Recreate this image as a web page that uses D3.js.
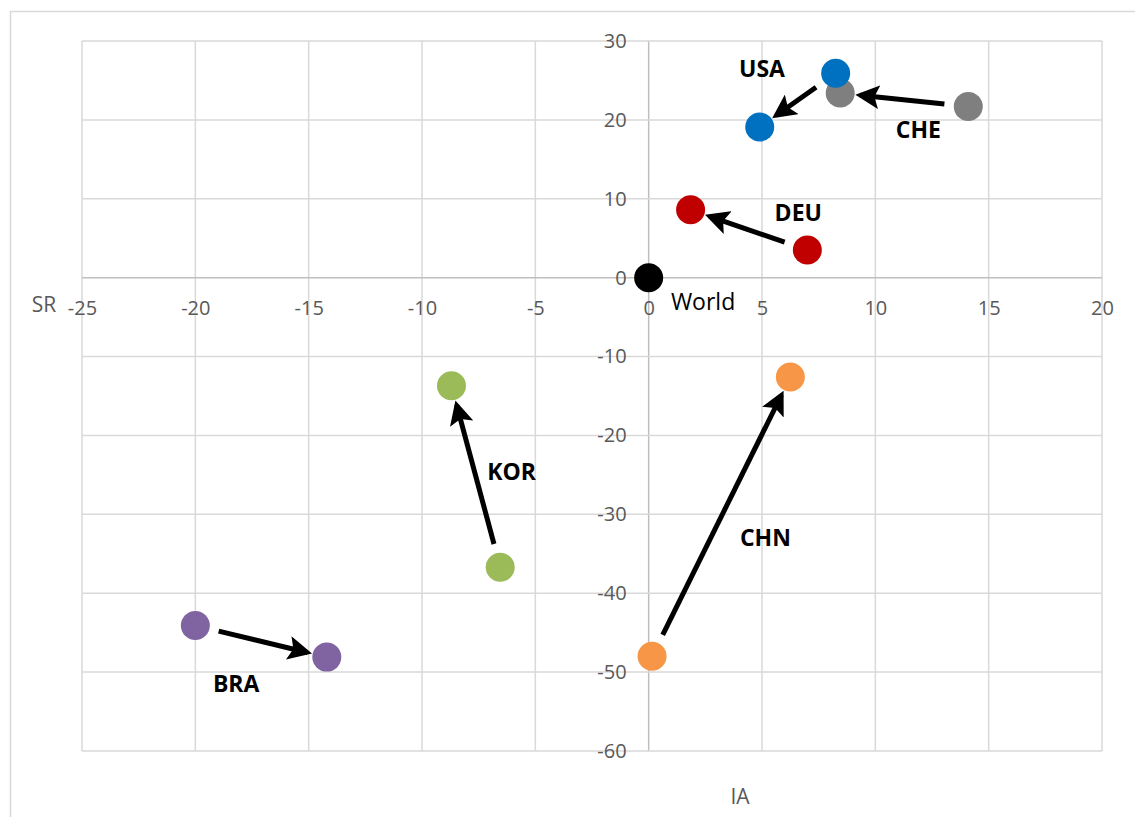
<!DOCTYPE html>
<html>
<head>
<meta charset="utf-8">
<script src="https://cdn.jsdelivr.net/npm/d3@7"></script>
<style>
  body { margin: 0; background: #fff; }
  text { font-family: "Open Sans", sans-serif; }
</style>
</head>
<body>
<script>
// series names and colours (drawn in this order, CHE below USA)
var countries = ["CHE", "USA", "DEU", "KOR", "CHN", "BRA"];
var colors = ["#7f7f7f", "#0070c0", "#c00000", "#9bbb59", "#f79646", "#8064a2"];

// start point (IA, SR) and end point of each arrow
var iaFrom = [14.1, 8.25, 7.0, -6.55, 0.15, -20.0];
var srFrom = [21.7, 25.9, 3.5, -36.7, -48.0, -44.1];
var iaTo = [8.45, 4.9, 1.85, -8.7, 6.25, -14.2];
var srTo = [23.4, 19.1, 8.6, -13.7, -12.6, -48.1];

// label positions in data units
var labelIa = [11.9, 5.0, 6.6, -6.05, 5.15, -18.2];
var labelSr = [18.8, 26.6, 8.3, -24.5, -32.9, -51.4];

var world = {name: "World", ia: 0, sr: 0, labelIa: 2.4, labelSr: -2.9};

var xTicks = [-25, -20, -15, -10, -5, 0, 5, 10, 15, 20];
var yTicks = [-60, -50, -40, -30, -20, -10, 0, 10, 20, 30];

var W = 1135, H = 817;
var svg = d3.select("body").append("svg")
    .attr("width", W)
    .attr("height", H);

// chart border (only top and left visible)
svg.append("rect")
    .attr("x", 10.5).attr("y", 11.5)
    .attr("width", W + 20).attr("height", H + 20)
    .attr("fill", "none")
    .attr("stroke", "#d9d9d9")
    .attr("stroke-width", 1.5);

var x = d3.scaleLinear().domain([-25, 20]).range([82, 1102]);
var y = d3.scaleLinear().domain([-60, 30]).range([751, 41]);

// plain hyphen minus like the original
var fmt = function(d) { return String(d); };

// gridlines
svg.append("g")
    .selectAll("line").data(xTicks).enter().append("line")
    .attr("x1", function(d) { return x(d); })
    .attr("x2", function(d) { return x(d); })
    .attr("y1", y(30)).attr("y2", y(-60))
    .attr("stroke", function(d) { return d === 0 ? "#bfbfbf" : "#d9d9d9"; })
    .attr("stroke-width", 1.5);

svg.append("g")
    .selectAll("line").data(yTicks).enter().append("line")
    .attr("y1", function(d) { return y(d); })
    .attr("y2", function(d) { return y(d); })
    .attr("x1", x(-25)).attr("x2", x(20))
    .attr("stroke", function(d) { return d === 0 ? "#bfbfbf" : "#d9d9d9"; })
    .attr("stroke-width", 1.5);

// x tick labels along the y=0 line
var xAxis = d3.axisBottom(x).tickValues(xTicks).tickFormat(fmt).tickSize(0).tickPadding(23);
svg.append("g")
    .attr("transform", "translate(0," + y(0) + ")")
    .call(xAxis)
    .call(function(g) { g.select(".domain").remove(); })
    .selectAll("text")
    .attr("fill", "#595959")
    .style("font-size", "20px")
    .style("font-family", "'Open Sans', sans-serif");

// y tick labels along the x=0 line
var yAxis = d3.axisLeft(y).tickValues(yTicks).tickFormat(fmt).tickSize(0).tickPadding(22);
svg.append("g")
    .attr("transform", "translate(" + x(0) + ",0)")
    .call(yAxis)
    .call(function(g) { g.select(".domain").remove(); })
    .selectAll("text")
    .attr("fill", "#595959")
    .style("font-size", "20px")
    .style("font-family", "'Open Sans', sans-serif");

// axis titles
svg.append("text")
    .attr("x", 44).attr("y", 304)
    .attr("text-anchor", "middle")
    .attr("dominant-baseline", "central")
    .attr("fill", "#595959")
    .style("font-size", "21px")
    .text("SR");

svg.append("text")
    .attr("x", 740).attr("y", 796)
    .attr("text-anchor", "middle")
    .attr("dominant-baseline", "central")
    .attr("fill", "#595959")
    .style("font-size", "21px")
    .text("IA");

// arrow head
svg.append("defs").append("marker")
    .attr("id", "head")
    .attr("viewBox", "0 0 10 10")
    .attr("refX", 8).attr("refY", 5)
    .attr("markerWidth", 4.8).attr("markerHeight", 4.8)
    .attr("markerUnits", "strokeWidth")
    .attr("orient", "auto")
    .append("path")
    .attr("d", "M0,0 L10,5 L0,10 L2,5 Z")
    .attr("fill", "#000");

var series = countries.map(function(c, i) {
    return {
        name: c, color: colors[i],
        x0: x(iaFrom[i]), y0: y(srFrom[i]),
        x1: x(iaTo[i]), y1: y(srTo[i]),
        lx: x(labelIa[i]), ly: y(labelSr[i])
    };
});

// arrows, trimmed so they start and end a little off the dots
svg.append("g")
    .selectAll("line").data(series).enter().append("line")
    .each(function(d) {
        var dx = d.x1 - d.x0, dy = d.y1 - d.y0;
        var len = Math.sqrt(dx * dx + dy * dy);
        var ux = dx / len, uy = dy / len;
        d3.select(this)
            .attr("x1", d.x0 + ux * 24).attr("y1", d.y0 + uy * 24)
            .attr("x2", d.x1 - ux * 20).attr("y2", d.y1 - uy * 20);
    })
    .attr("stroke", "#000")
    .attr("stroke-width", 5)
    .attr("marker-end", "url(#head)");

// dots
var pts = [];
series.forEach(function(d) {
    pts.push({cx: d.x0, cy: d.y0, color: d.color});
    pts.push({cx: d.x1, cy: d.y1, color: d.color});
});
pts.push({cx: x(world.ia), cy: y(world.sr), color: "#000"});

svg.append("g")
    .selectAll("circle").data(pts).enter().append("circle")
    .attr("cx", function(d) { return d.cx; })
    .attr("cy", function(d) { return d.cy; })
    .attr("r", 14.5)
    .attr("fill", function(d) { return d.color; });

// country labels
svg.append("g")
    .selectAll("text").data(series).enter().append("text")
    .attr("x", function(d) { return d.lx; })
    .attr("y", function(d) { return d.ly; })
    .attr("text-anchor", "middle")
    .attr("dominant-baseline", "central")
    .attr("fill", "#000")
    .style("font-size", "23px")
    .style("font-weight", "bold")
    .text(function(d) { return d.name; });

svg.append("text")
    .attr("x", x(world.labelIa)).attr("y", y(world.labelSr))
    .attr("text-anchor", "middle")
    .attr("dominant-baseline", "central")
    .attr("fill", "#000")
    .style("font-size", "23px")
    .text(world.name);
</script>
</body>
</html>
